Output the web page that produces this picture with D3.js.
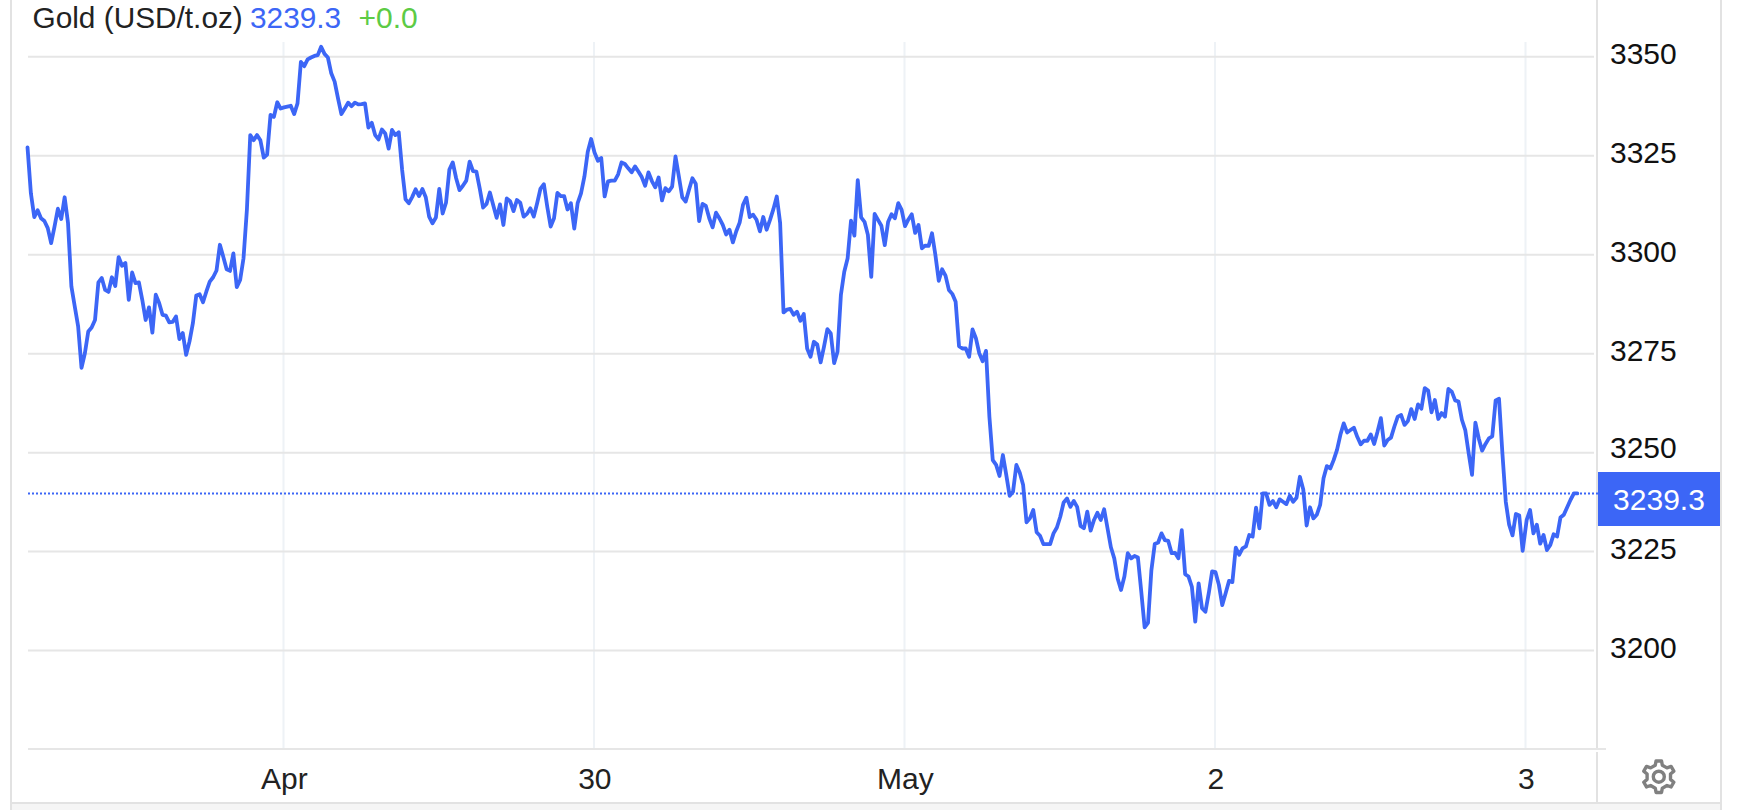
<!DOCTYPE html>
<html>
<head>
<meta charset="utf-8">
<script src="https://cdn.jsdelivr.net/npm/d3@7/dist/d3.min.js"></script>
<style>
html,body{margin:0;padding:0;background:#fff;overflow:hidden}
svg{display:block}
text{font-family:"Liberation Sans",Arial,sans-serif}
</style>
</head>
<body>
<svg id="c" width="1738" height="810"></svg>
<script>
const titleName = "Gold (USD/t.oz)";
const lastLabel = "3239.3";
const changeLabel = "+0.0";
const yTicks = [3350,3325,3300,3275,3250,3225,3200];
const xTickDays = [29,30,31,32,33];
const xTickLabels = ["Apr","30","May","2","3"];
const barsPerDay = 92;

const session0 = [3327.1,3315.5,3309.5,3311.2,3309.2,3308.5,3306.7,3302.9,3307.1,3311.6,3309.0,3314.5,3308.0,3292.0,3286.9,3281.9,3271.4,3275.1,3280.6,3281.6,3283.5,3293.0,3294.1,3291.1,3290.6,3294.3,3292.1,3299.4,3297.2,3297.9,3288.6,3295.5,3292.8,3293.0,3288.6,3283.5,3286.7,3280.3,3289.9,3287.8,3284.8,3284.6,3282.9,3283.0,3284.4,3278.7,3280.2,3274.7,3278.1,3282.7,3289.7,3290.0,3288.0,3290.7,3293.2,3294.3,3296.0,3302.5,3299.5,3296.3,3295.9,3300.3,3291.8,3293.6,3299.1,3311.3,3330.2,3328.9,3330.2,3328.9,3324.5,3325.3,3335.3,3334.8,3338.5,3336.9];
const session1 = [3337.2,3337.4,3337.6,3335.5,3338.2,3348.7,3347.6,3349.3,3349.8,3350.2,3350.4,3352.5,3350.7,3349.8,3345.8,3343.7,3339.5,3335.5,3336.9,3338.4,3337.5,3338.4,3337.95,3338.0,3338.2,3332.1,3333.3,3330.2,3329.1,3331.6,3330.6,3326.8,3331.5,3330.2,3330.9,3321.4,3314.0,3313.0,3314.6,3316.5,3314.8,3316.6,3314.5,3309.6,3307.9,3309.4,3316.6,3310.4,3313.1,3321.5,3323.3,3319.3,3316.3,3317.4,3318.7,3323.5,3321.1,3321.0,3316.7,3311.9,3312.8,3315.7,3312.5,3309.3,3312.7,3307.5,3314.2,3313.5,3311.0,3313.8,3313.1,3309.6,3310.3,3311.7,3309.6,3313.0,3316.7,3317.8,3312.1,3307.1,3309.2,3315.6,3314.8,3314.8,3311.4,3313.0,3306.6,3313.0,3315.5,3319.7,3326.0,3329.2];
const session2 = [3325.8,3323.7,3324.4,3314.7,3318.5,3318.7,3318.7,3320.3,3323.3,3322.9,3321.8,3320.8,3322.3,3321.0,3319.6,3317.4,3320.8,3318.6,3317.0,3319.5,3313.7,3316.8,3316.0,3317.2,3324.8,3319.7,3314.5,3313.4,3316.4,3319.3,3317.9,3308.5,3312.8,3312.3,3309.2,3306.9,3310.6,3309.2,3307.5,3305.1,3306.3,3303.1,3305.9,3308.1,3312.6,3314.4,3309.5,3310.1,3308.8,3305.9,3309.5,3306.3,3308.8,3311.5,3314.7,3308.0,3285.4,3286.1,3286.3,3284.8,3285.6,3283.3,3285.0,3276.3,3274.2,3278.0,3277.3,3272.8,3276.8,3281.2,3280.1,3272.6,3275.5,3289.8,3295.7,3299.1,3308.6,3304.8,3318.8,3309.4,3308.3,3305.0,3294.4,3310.3,3308.8,3307.3,3302.4,3308.3,3310.2,3309.2,3313.0,3311.3];
const session3 = [3307.2,3308.9,3310.2,3305.5,3307.5,3301.6,3302.3,3302.2,3305.4,3299.9,3293.4,3296.3,3294.7,3291.1,3290.1,3288.1,3276.9,3276.3,3276.3,3274.2,3281.1,3278.9,3275.1,3273.1,3275.7,3259.1,3248.1,3246.9,3244.1,3249.4,3244.4,3239.1,3240.1,3246.9,3244.9,3241.8,3232.4,3233.4,3235.5,3229.9,3229.0,3226.9,3226.9,3226.9,3229.6,3231.1,3233.8,3237.4,3238.4,3236.3,3237.8,3236.3,3231.5,3230.9,3235.1,3230.3,3233.0,3234.8,3233.0,3235.7,3230.9,3226.1,3223.3,3218.2,3215.3,3218.7,3224.6,3223.3,3223.9,3223.5,3214.9,3205.9,3207.0,3220.3,3226.9,3227.3,3229.6,3227.9,3227.7,3224.6,3224.7,3223.3,3230.4,3219.3,3218.7,3216.1,3207.3,3217.0,3210.7,3209.8,3214.5,3220.0];
const session4 = [3219.8,3216.6,3211.5,3214.5,3217.6,3217.3,3226.0,3224.2,3225.8,3226.3,3229.2,3228.8,3236.1,3230.9,3239.7,3239.7,3236.8,3237.8,3236.2,3238.2,3237.6,3237.0,3239.1,3237.6,3238.6,3243.9,3240.7,3231.6,3236.2,3233.4,3234.3,3236.8,3243.5,3246.6,3246.0,3248.1,3250.7,3254.5,3257.4,3255.1,3255.7,3256.3,3254.0,3252.1,3253.0,3253.0,3254.6,3252.2,3255.3,3258.7,3251.8,3253.2,3253.8,3256.6,3259.1,3259.5,3257.0,3258.0,3261.0,3258.5,3262.2,3261.1,3266.3,3265.7,3260.2,3263.3,3258.5,3260.0,3259.1,3266.1,3265.4,3263.2,3262.9,3258.3,3255.7,3249.9,3244.4,3257.6,3253.6,3250.5,3252.2,3253.6,3254.1,3263.2,3263.6,3249.9,3237.6,3231.8,3229.1,3234.5,3234.1,3225.2];
const session5 = [3233.0,3235.5,3229.6,3231.8,3227.0,3229.2,3225.4,3226.7,3229.4,3228.8,3233.6,3234.3,3236.2,3238.1,3239.7,3239.7];

const BLUE = "#3c66f6", DARK = "#222222", GRID = "#e6e6e6", VGRID = "#eef2f6", FRAME = "#e2e2e2";
const svg = d3.select("#c");

const x = d3.scaleLinear().domain([29,33]).range([283,1525]);
const y = d3.scaleLinear().domain([3350,3200]).range([56.7,650.6]);

// flatten sessions to [day, price]
const points = [];
session0.forEach((p,j)=>points.push([29-(session0.length-j-0.3)/barsPerDay,p]));
[session1,session2,session3,session4].forEach((s,k)=>s.forEach((p,j)=>points.push([29+k+(j+0.3)/s.length,p])));
session5.forEach((p,j)=>points.push([33+(j+0.5)/barsPerDay,p]));

const lastValue = session5[session5.length-1];

// page frame
svg.append("rect").attr("x",11).attr("y",803).attr("width",1710).attr("height",7).attr("fill","#f5f5f5");
svg.append("line").attr("x1",11).attr("x2",11).attr("y1",0).attr("y2",810).attr("stroke",FRAME).attr("stroke-width",2);
svg.append("line").attr("x1",1721).attr("x2",1721).attr("y1",0).attr("y2",810).attr("stroke",FRAME).attr("stroke-width",2);
svg.append("line").attr("x1",11).attr("x2",1721).attr("y1",803).attr("y2",803).attr("stroke",FRAME).attr("stroke-width",2);
svg.append("line").attr("x1",1597).attr("x2",1597).attr("y1",0).attr("y2",749).attr("stroke",FRAME).attr("stroke-width",2);
svg.append("line").attr("x1",1597).attr("x2",1597).attr("y1",752).attr("y2",802).attr("stroke",FRAME).attr("stroke-width",2);

// vertical grid + x labels
const xAxis = d3.axisBottom(x).tickValues(xTickDays).tickFormat((d,i)=>xTickLabels[i]).tickSize(-707).tickPadding(0);
const gx = svg.append("g").attr("transform","translate(0,749)").call(xAxis);
gx.select(".domain").remove();
gx.selectAll(".tick line").attr("stroke",VGRID).attr("stroke-width",2);
gx.selectAll(".tick text").attr("x",0.8).attr("y",40).attr("dy",0).attr("font-size",30).attr("fill",DARK).attr("style",'font-family:"Liberation Sans",Arial,sans-serif');

// horizontal grid + y labels
const yAxis = d3.axisRight(y).tickValues(yTicks).tickFormat(d3.format("d")).tickSize(0);
const gy = svg.append("g").attr("transform","translate(1610,0)").call(yAxis);
gy.select(".domain").remove();
gy.selectAll(".tick text").attr("x",0).attr("dy","0.34em")
  .attr("transform",d=>`translate(0,${d===3250?-5:-3})`)
  .attr("font-size",30).attr("fill","#111").attr("style",'font-family:"Liberation Sans",Arial,sans-serif');
svg.append("g").selectAll("line").data(yTicks).join("line")
  .attr("x1",28).attr("x2",1594).attr("y1",d=>y(d)).attr("y2",d=>y(d))
  .attr("stroke",GRID).attr("stroke-width",2);

// x axis baseline
svg.append("line").attr("x1",28).attr("x2",1606).attr("y1",749).attr("y2",749).attr("stroke",GRID).attr("stroke-width",2);

// last value dotted line
svg.append("line").attr("x1",28).attr("x2",1598).attr("y1",y(lastValue)).attr("y2",y(lastValue))
  .attr("stroke",BLUE).attr("stroke-width",2).attr("stroke-dasharray","2 2");

// price line
svg.append("path").datum(points)
  .attr("fill","none").attr("stroke",BLUE).attr("stroke-width",3.8)
  .attr("stroke-linejoin","round").attr("stroke-linecap","round")
  .attr("d",d3.line().x(d=>x(d[0])).y(d=>y(d[1])));

// badge
svg.append("rect").attr("x",1598).attr("y",472).attr("width",122).attr("height",54).attr("fill",BLUE);
svg.append("text").attr("x",1659).attr("y",510).attr("text-anchor","middle")
  .attr("font-size",30).attr("fill","#fff").text(lastLabel);

// title
svg.append("text").attr("x",32.5).attr("y",27.5).attr("font-size",29.8).attr("fill",DARK).text(titleName);
svg.append("text").attr("x",250).attr("y",27.5).attr("font-size",29.8).attr("fill",BLUE).text(lastLabel);
svg.append("text").attr("x",358.5).attr("y",27.5).attr("font-size",30).attr("fill","#5ccb45").text(changeLabel);

// settings gear
const gear = [];
const teeth = 6;
for(let i=0;i<teeth;i++){
  const a0 = i/teeth*2*Math.PI;
  [[-0.30,12],[-0.17,16],[0.17,16],[0.30,12]].forEach(([da,r])=>gear.push([a0+da,r]));
}
const gg = svg.append("g").attr("transform","translate(1658.8,776.7)");
gg.append("path").attr("d",d3.lineRadial().curve(d3.curveLinearClosed)(gear))
  .attr("fill","none").attr("stroke","#808080").attr("stroke-width",3.4).attr("stroke-linejoin","round");
gg.append("circle").attr("r",5.5).attr("fill","none").attr("stroke","#808080").attr("stroke-width",3.4);
</script>
</body>
</html>
